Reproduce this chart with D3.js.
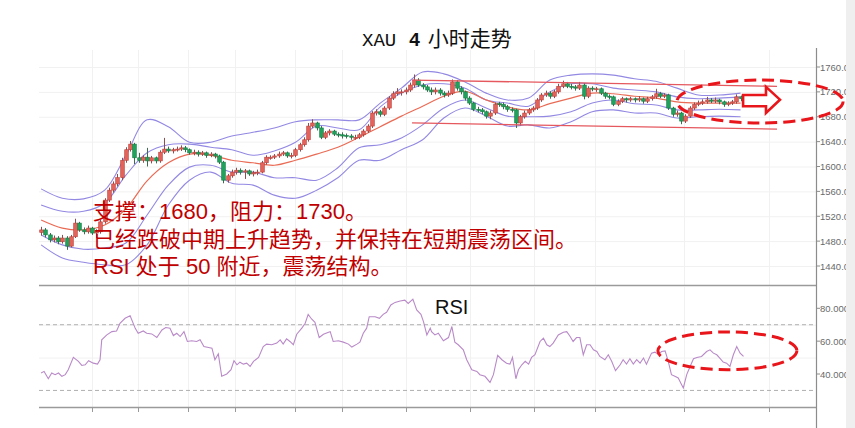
<!DOCTYPE html>
<html><head><meta charset="utf-8">
<script src="https://cdn.jsdelivr.net/npm/d3@7/dist/d3.min.js"></script>
<style>html,body{margin:0;padding:0;background:#fff;}svg{display:block;}</style>
</head><body>
<svg id="c" width="855" height="428"></svg>
<script>
// ---------------- DATA ----------------
const title = ["XAU", "4", "小时走势"];
const priceTicks = [1440, 1480, 1520, 1560, 1600, 1640, 1680, 1720, 1760];
const priceTickLabels = ["1440.00","1480.00","1520.00","1560.00","1600.00","1640.00","1680.00","1720.00","1760.00"];
const rsiTicks = [40, 60, 80];
const rsiTickLabels = ["40.0000","60.0000","80.0000"];
const rsiLevels = [30, 70];
const timeTickIdx = [12, 22.9, 34.7, 45.8, 59.9, 71, 86.1, 101.2, 116.3, 130.7, 151.7, 171.7];

const opens = [1494,1498,1490,1482,1485,1479,1485,1472,1487,1509,
1498,1495,1501,1493,1495,1511,1546,1562,1572,1582,
1610,1627,1636,1614,1610,1615,1609,1614,1609,1623,
1628,1625,1627,1628,1630,1627,1622,1623,1620,1622,
1618,1620,1617,1607,1578,1585,1591,1594,1591,1593,
1588,1590,1591,1606,1613,1615,1617,1620,1622,1617,
1618,1627,1635,1643,1665,1670,1662,1647,1654,1657,
1652,1651,1650,1649,1646,1647,1651,1657,1665,1686,
1688,1684,1694,1710,1717,1719,1720,1723,1731,1739,
1731,1728,1723,1720,1723,1718,1715,1718,1736,1726,
1720,1710,1702,1692,1691,1688,1681,1686,1701,1700,
1696,1692,1691,1670,1680,1686,1691,1694,1707,1715,
1718,1713,1720,1729,1733,1729,1728,1726,1731,1713,
1726,1724,1725,1718,1713,1712,1700,1705,1709,1707,
1709,1707,1709,1705,1709,1712,1717,1713,1715,1694,
1684,1686,1673,1681,1694,1700,1702,1704,1707,1705,
1707,1704,1700,1702,1704,1712];
const highs = [1503,1501,1493,1489,1488,1490,1488,1490,1516,1511,
1502,1505,1503,1499,1514,1549,1566,1576,1588,1614,
1631,1641,1638,1622,1618,1630,1617,1616,1626,1646,
1632,1630,1632,1634,1633,1629,1627,1626,1625,1624,
1623,1622,1619,1609,1588,1595,1598,1597,1596,1595,
1593,1595,1609,1618,1618,1620,1624,1625,1624,1622,
1630,1638,1647,1670,1676,1672,1665,1657,1660,1659,
1655,1655,1653,1652,1651,1654,1660,1668,1689,1692,
1691,1697,1713,1721,1726,1724,1727,1735,1748,1742,
1734,1731,1727,1727,1726,1721,1722,1740,1739,1729,
1722,1713,1704,1696,1694,1690,1690,1703,1704,1703,
1699,1695,1693,1683,1690,1694,1697,1710,1718,1722,
1721,1723,1733,1738,1736,1733,1731,1736,1734,1729,
1729,1728,1727,1720,1716,1714,1708,1712,1711,1712,
1711,1713,1711,1712,1715,1725,1720,1718,1717,1696,
1690,1688,1684,1697,1703,1706,1708,1712,1710,1711,
1709,1706,1705,1707,1716,1714];
const lows = [1489,1486,1478,1478,1475,1476,1466,1470,1485,1495,
1491,1492,1490,1485,1492,1508,1543,1558,1568,1578,
1606,1624,1604,1606,1606,1600,1605,1605,1606,1620,
1622,1621,1624,1625,1623,1619,1618,1616,1617,1614,
1615,1613,1604,1573,1574,1582,1587,1587,1580,1585,
1584,1586,1589,1603,1611,1612,1614,1617,1614,1613,
1615,1624,1632,1640,1662,1658,1644,1644,1650,1649,
1647,1645,1645,1643,1643,1644,1648,1654,1662,1682,
1680,1681,1691,1707,1714,1714,1716,1720,1727,1728,
1724,1720,1715,1716,1714,1711,1712,1715,1722,1716,
1706,1699,1689,1687,1684,1677,1676,1683,1696,1692,
1688,1687,1662,1666,1677,1683,1688,1691,1704,1712,
1709,1710,1717,1726,1726,1724,1722,1723,1708,1710,
1721,1720,1715,1709,1708,1697,1697,1702,1703,1704,
1703,1704,1701,1702,1706,1709,1710,1710,1691,1680,
1680,1668,1670,1678,1691,1697,1699,1701,1702,1702,
1700,1696,1697,1699,1701,1705];
const closes = [1498,1490,1482,1485,1479,1485,1472,1487,1509,1498,
1495,1501,1493,1495,1511,1546,1562,1572,1582,1610,
1627,1636,1614,1610,1615,1609,1614,1609,1623,1628,
1625,1627,1628,1630,1627,1622,1623,1620,1622,1618,
1620,1617,1607,1578,1585,1591,1594,1591,1593,1588,
1590,1591,1606,1615,1615,1617,1620,1622,1617,1618,
1627,1635,1643,1665,1670,1662,1647,1654,1657,1652,
1651,1649,1649,1647,1647,1651,1657,1665,1686,1688,
1684,1694,1710,1717,1720,1720,1723,1731,1739,1731,
1728,1723,1720,1723,1718,1715,1718,1736,1726,1720,
1710,1702,1692,1691,1688,1681,1686,1700,1700,1696,
1692,1691,1670,1680,1686,1691,1694,1707,1715,1718,
1713,1720,1729,1733,1729,1728,1726,1731,1713,1726,
1725,1725,1718,1713,1712,1700,1705,1709,1707,1709,
1707,1709,1705,1709,1712,1717,1713,1715,1694,1684,
1686,1673,1681,1694,1700,1702,1704,1707,1705,1707,
1704,1700,1702,1704,1712,1709];

// indicator lines, sampled every 5 bars
const bandIdx = [0,5,10,15,20,25,30,35,40,45,50,55,60,65,70,75,80,85,90,95,100,105,110,115,120,125,130,135,140,145,150,155,160,165];
const maLine = [1514,1501,1498,1506,1532,1577,1606,1620,1618,1610,1606,1602,1610,1620,1631,1647,1664,1681,1697,1713,1721,1707,1696,1691,1701,1710,1718,1717,1713,1710,1704,1702,1702,1702];
const upperOuter = [1564,1549,1548,1562,1618,1675,1664,1639,1639,1649,1655,1662,1672,1675,1675,1675,1702,1726,1752,1749,1736,1718,1707,1710,1739,1747,1749,1747,1741,1737,1726,1715,1715,1718];
const upperInner = [1538,1528,1528,1541,1586,1622,1635,1636,1631,1627,1618,1625,1639,1665,1662,1659,1696,1718,1731,1733,1726,1707,1702,1697,1720,1733,1733,1726,1723,1720,1712,1709,1710,1712];
const lowerInner = [1490,1474,1467,1469,1477,1522,1570,1599,1602,1591,1591,1582,1582,1578,1598,1630,1635,1646,1667,1694,1707,1694,1681,1680,1681,1688,1702,1707,1701,1699,1691,1691,1692,1691];
const lowerOuter = [1474,1453,1446,1442,1442,1474,1538,1578,1591,1573,1570,1554,1549,1562,1582,1610,1610,1627,1643,1678,1694,1681,1665,1667,1662,1672,1688,1691,1686,1686,1678,1680,1681,1680];

// channel trend lines [startIdx, endIdx]
const channelIdx = [87.5, 173.6];
const channelUpper = [1739, 1729];
const channelLower = [1670, 1660];

// RSI (bar position, value)
const rsiIdx = [0,0.7,1.7,2.5,3.3,4.1,4.9,5.7,6.4,7.6,8.8,9.6,10.4,11.2,12.3,13.3,13.9,14.3,15.5,16.7,17.8,18.6,19.8,21,22.2,22.9,24.1,24.9,26.1,27.3,28.5,29.4,30.4,31.2,32,32.8,33.7,34.5,35.5,36.7,37.5,38.4,39.5,40.3,41,41.8,42.6,43.8,44.8,45.5,46.2,46.9,47.7,48.5,49.3,50.1,51.3,52.4,53.2,54.4,55.6,56.4,57.1,57.9,58.7,59.5,60.3,61.5,62.3,63,63.8,64.6,65.6,66.6,67.8,68.2,68.9,70.1,71.3,72.5,73.3,74.5,75.2,76,76.8,77.4,78.8,79.8,80.7,81.5,82.5,83.5,84.7,85.8,86.6,87.7,88.6,89.6,90.2,91,91.8,92.1,92.9,93.7,94.9,96.1,96.9,97.6,98.4,99.6,100.4,101.6,102.8,103.5,104.7,105.9,106.7,107.7,108.7,109.8,110.6,111.2,112,112.6,113.4,114.2,115,115.7,116.5,117.7,118.5,119.3,120,120.8,122,123.2,124,124.8,125.5,126.3,127.1,127.9,128.7,129.5,130.3,131.1,131.8,133,133.8,134.6,135.5,136.6,137.3,138.1,138.9,139.7,140.5,141.3,142.1,142.8,144,144.8,145.6,146.4,147.2,147.9,148.7,149.5,150.3,151.1,151.5,152.3,153.1,153.9,154.7,155.8,157,157.8,158.6,159.4,160.1,160.9,161.7,162.5,163.3,164.1,164.9,165.7];
const rsiVal = [40.6,41.6,37.1,40.6,39.6,40.6,38.6,39.6,42.6,50.1,47.7,45.2,45.6,48.1,46.6,46.0,48.7,60.8,63.8,65.8,66.2,70.9,73.9,75.5,67.8,64.8,66.2,64.8,64.4,62.2,66.8,68.3,67.9,63.4,64.8,62.8,65.8,59.8,60.2,59.8,60.8,56.7,56.1,55.7,48.7,52.3,38.6,40.0,42.6,48.1,45.6,47.2,46.0,46.6,44.6,47.7,50.1,56.7,58.2,57.8,58.8,60.8,58.2,61.4,59.8,57.8,64.2,67.9,70.9,76.3,73.5,71.5,62.2,64.2,65.4,65.8,59.8,60.2,59.4,58.2,56.4,58.2,59.4,64.8,67.9,74.9,74.9,73.9,76.3,77.6,82.0,83.6,84.4,85.0,83.0,85.6,79.0,76.3,71.9,63.8,67.9,65.8,63.8,64.8,60.2,62.2,68.9,59.4,57.8,54.7,48.7,42.6,41.6,39.6,38.6,34.9,39.6,51.3,48.7,46.6,46.0,50.1,37.1,42.6,45.6,47.7,46.0,50.1,51.7,59.8,61.8,57.8,56.7,58.8,63.8,65.4,65.8,62.8,59.8,62.2,62.2,51.7,57.8,57.8,54.7,53.7,50.7,48.7,51.7,47.7,42.0,45.6,48.7,46.0,49.3,46.0,48.7,46.6,49.7,46.0,52.7,53.3,52.1,53.7,54.1,48.1,39.6,38.6,37.6,33.5,31.5,39.6,44.6,49.3,50.1,50.7,53.7,54.7,52.7,51.7,49.7,47.3,46.6,44.6,51.7,56.7,52.7,50.7];

// annotations (data units)
const notes = ["支撑：1680，阻力：1730。", "已经跌破中期上升趋势，并保持在短期震荡区间。", "RSI 处于 50 附近，震荡结构。"];
const priceEllipse = {cx:169.6, cy:1704.5, rx:19.6, ry:34.6};
const rsiEllipse = {cx:161.9, cy:54.1, rx:16.4, ry:11.5};
const arrowIdx = [165.6, 171.0, 174.3];      // tail, head base, tip
const arrowPrice = [1715, 1697, 1728, 1686, 1707.5]; // body top, body bottom, head top, head bottom, tip

// ---------------- DRAW ----------------
const svg = d3.select("#c");
const x = d3.scaleLinear().domain([-0.5, 182.8]).range([39, 816]);
const y = d3.scaleLinear().domain([1440, 1760]).range([266, 67]);
const yr = d3.scaleLinear().domain([40, 80]).range([374, 308.3]);

svg.append("rect").attr("width",855).attr("height",428).attr("fill","#fff");

// faint grid
const grid = svg.append("g").attr("stroke","#f1f1f1").attr("stroke-width",1);
priceTicks.forEach(t => grid.append("line").attr("x1",39).attr("x2",816).attr("y1",y(t)+0.5).attr("y2",y(t)+0.5));
[50,70].forEach(t => grid.append("line").attr("x1",39).attr("x2",816).attr("y1",yr(t)+0.5).attr("y2",yr(t)+0.5));
timeTickIdx.forEach(t => {
  grid.append("line").attr("x1",Math.round(x(t))+0.5).attr("x2",Math.round(x(t))+0.5).attr("y1",50).attr("y2",285);
  grid.append("line").attr("x1",Math.round(x(t))+0.5).attr("x2",Math.round(x(t))+0.5).attr("y1",287).attr("y2",407);
});

// title
const tt = svg.append("text").attr("x",362).attr("y",46).attr("fill","#111");
tt.append("tspan").attr("font-family","'Liberation Mono', monospace").attr("font-size",19).text(title[0]);
tt.append("tspan").attr("dx",13).attr("font-family","'Liberation Sans', Arial").attr("font-weight","bold").attr("font-size",19).text(title[1]);
tt.append("tspan").attr("dx",8).attr("font-family","'Noto Sans CJK SC'").attr("font-size",21).text(title[2]);

const plot = svg.append("g");
svg.append("clipPath").attr("id","mainclip").append("rect").attr("x",39).attr("y",45).attr("width",777).attr("height",240);
const pg = plot.append("g").attr("clip-path","url(#mainclip)");

// bands
const bandLine = arr => d3.line().x((d,i)=>x(bandIdx[i])).y(d=>y(d)).curve(d3.curveCatmullRom.alpha(0.5))(arr);
[upperOuter, upperInner, lowerInner, lowerOuter].forEach(a => {
  pg.append("path").attr("d", bandLine(a)).attr("fill","none").attr("stroke","#9389e3").attr("stroke-width",1.1);
});
pg.append("path").attr("d", bandLine(maLine)).attr("fill","none").attr("stroke","#ea6b55").attr("stroke-width",1.2);

// channel lines
[channelUpper, channelLower].forEach(a => {
  plot.append("line").attr("x1",x(channelIdx[0])).attr("x2",x(channelIdx[1]))
    .attr("y1",y(a[0])).attr("y2",y(a[1])).attr("stroke","#e4585e").attr("stroke-width",1.3);
});

// candles
const cg = pg.append("g");
closes.forEach((c,i) => {
  const o = opens[i], up = c >= o;
  const cx = Math.round(x(i)) + 0.5;
  cg.append("line").attr("x1",cx).attr("x2",cx).attr("y1",y(highs[i])).attr("y2",y(lows[i]))
    .attr("stroke", up ? "#8a5050" : "#3d6b50").attr("stroke-width",1);
  const top = y(Math.max(o,c)), bot = y(Math.min(o,c));
  cg.append("rect").attr("x",cx-1.8).attr("width",3.6).attr("y",top).attr("height",Math.max(1,bot-top))
    .attr("fill", up ? "#e4625a" : "#1fa35c").attr("stroke", up ? "#b8403a" : "#147a43").attr("stroke-width",0.6);
});

// notes
const ng = svg.append("g").attr("fill","#c00000").attr("font-family","'Liberation Sans', 'Noto Sans CJK SC', sans-serif").attr("font-size",22);
notes.forEach((t,i) => ng.append("text").attr("x",93).attr("y",219 + i*27.5).text(t));

// separators
svg.append("line").attr("x1",39).attr("x2",816).attr("y1",285.5).attr("y2",285.5).attr("stroke","#9a9a9a").attr("stroke-width",1.3);
svg.append("line").attr("x1",39).attr("x2",816).attr("y1",407.5).attr("y2",407.5).attr("stroke","#9a9a9a").attr("stroke-width",1.3);

// right axes
svg.append("line").attr("x1",816.5).attr("x2",816.5).attr("y1",48).attr("y2",428).attr("stroke","#8c8c8c").attr("stroke-width",1.2);
const ag = svg.append("g").attr("font-family","'Liberation Sans', Arial").attr("font-size",9.5).attr("fill","#6a6a6a");
priceTicks.forEach((t,i) => {
  ag.append("line").attr("x1",816).attr("x2",820).attr("y1",y(t)).attr("y2",y(t)).attr("stroke","#8c8c8c");
  ag.append("text").attr("x",820).attr("y",y(t)+3.5).text(priceTickLabels[i]);
});
rsiTicks.forEach((t,i) => {
  ag.append("line").attr("x1",816).attr("x2",820).attr("y1",yr(t)).attr("y2",yr(t)).attr("stroke","#8c8c8c");
  ag.append("text").attr("x",820).attr("y",yr(t)+3.5).text(rsiTickLabels[i]);
});
timeTickIdx.forEach(t => svg.append("line").attr("x1",Math.round(x(t))+0.5).attr("x2",Math.round(x(t))+0.5).attr("y1",408).attr("y2",412).attr("stroke","#9a9a9a"));

// RSI panel
rsiLevels.forEach(l => svg.append("line").attr("x1",39).attr("x2",816).attr("y1",yr(l)).attr("y2",yr(l))
  .attr("stroke","#b0b0b0").attr("stroke-width",1).attr("stroke-dasharray","4,3"));
svg.append("path").attr("d", d3.line().x((d,i)=>x(rsiIdx[i])).y(d=>yr(d))(rsiVal))
  .attr("fill","none").attr("stroke","#b98ac8").attr("stroke-width",1.1);
svg.append("text").attr("x",435).attr("y",314).attr("font-family","'Liberation Sans', Arial").attr("font-size",20).attr("fill","#111").text("RSI");

// annotations
const red = "#e8161b";
svg.append("ellipse").attr("cx",x(priceEllipse.cx)).attr("cy",y(priceEllipse.cy))
  .attr("rx",x(priceEllipse.cx+priceEllipse.rx)-x(priceEllipse.cx)).attr("ry",y(priceEllipse.cy-priceEllipse.ry)-y(priceEllipse.cy))
  .attr("fill","none").attr("stroke",red).attr("stroke-width",3).attr("stroke-dasharray","12,6");
svg.append("ellipse").attr("cx",x(rsiEllipse.cx)).attr("cy",yr(rsiEllipse.cy))
  .attr("rx",x(rsiEllipse.cx+rsiEllipse.rx)-x(rsiEllipse.cx)).attr("ry",yr(rsiEllipse.cy-rsiEllipse.ry)-yr(rsiEllipse.cy))
  .attr("fill","none").attr("stroke",red).attr("stroke-width",3).attr("stroke-dasharray","12,6");
const ap = [[x(arrowIdx[0]),y(arrowPrice[0])],[x(arrowIdx[1]),y(arrowPrice[0])],[x(arrowIdx[1]),y(arrowPrice[2])],
  [x(arrowIdx[2]),y(arrowPrice[4])],[x(arrowIdx[1]),y(arrowPrice[3])],[x(arrowIdx[1]),y(arrowPrice[1])],[x(arrowIdx[0]),y(arrowPrice[1])]];
svg.append("path").attr("d","M"+ap.map(p=>p.join(",")).join("L")+"Z").attr("fill","#fff").attr("stroke",red).attr("stroke-width",2.6).attr("stroke-linejoin","miter");

// right edge strip
svg.append("rect").attr("x",846).attr("y",0).attr("width",9).attr("height",428).attr("fill","#efefef");
</script>
</body></html>
